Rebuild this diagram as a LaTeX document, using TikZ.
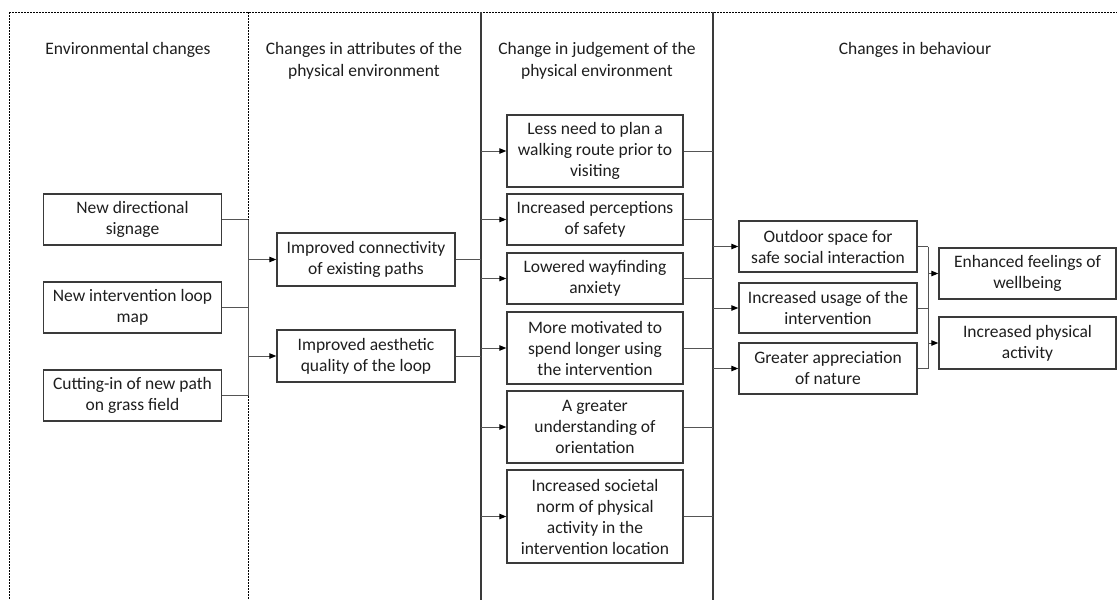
\documentclass[tikz,border=0pt]{standalone}
\usepackage{fontspec}
\setmainfont{Carlito}
\usetikzlibrary{arrows.meta}
\definecolor{boxc}{HTML}{3A3A3A}
\definecolor{txt}{HTML}{1E1E1E}
\definecolor{linec}{HTML}{555555}
\begin{document}
\begin{tikzpicture}[x=1pt,y=-1pt,
  box/.style={draw=boxc, line width=1.4pt, fill=white, align=center, text=txt,
    font=\fontsize{17.5}{21}\selectfont, inner sep=2pt, minimum width=178pt},
  head/.style={align=center, text=txt, font=\fontsize{17.5}{22}\selectfont, inner sep=0pt},
  conn/.style={draw=linec, line width=1pt},
  arr/.style={conn, -{Triangle[length=7pt,width=5.5pt,color=black]}},
  sepdash/.style={draw=black, line width=0.8pt, dash pattern=on 2pt off 1pt},
  sepsolid/.style={draw=boxc, line width=1.8pt}
]
\useasboundingbox (0,0) rectangle (1117,600);

% separators
\draw[sepdash] (9,12) -- (1117,12);
\draw[sepdash] (9,12) -- (9,600);
\draw[sepdash] (248,12) -- (248,600);
\draw[sepsolid] (481,12) -- (481,600);
\draw[sepsolid] (713,12) -- (713,600);

% headers
\node[head] (h1) at (128,50) {Environmental changes};
\node[head] (h2) at (364,61) {Changes in attributes of the\\physical environment};
\node[head] (h3) at (597,61) {Change in judgement of the\\physical environment};
\node[head] (h4) at (915,50) {Changes in behaviour};

% column 1
\node[box, minimum height=51pt] (b1) at (132.5,219.5) {New directional\\signage};
\node[box, minimum height=51pt] (b2) at (132.5,307.5) {New intervention loop\\map};
\node[box, minimum height=51pt] (b3) at (132.5,395.5) {Cutting-in of new path\\on grass field};

% column 2
\node[box, minimum height=53pt] (c1) at (366,259.5) {Improved connectivity\\of existing paths};
\node[box, minimum height=52pt] (c2) at (366,356) {Improved aesthetic\\quality of the loop};

% column 3
\node[box, minimum width=176pt, minimum height=72pt] (d1) at (595,151) {Less need to plan a\\walking route prior to\\visiting};
\node[box, minimum width=176pt, minimum height=51pt] (d2) at (595,219.5) {Increased perceptions\\of safety};
\node[box, minimum width=176pt, minimum height=51pt] (d3) at (595,278.5) {Lowered wayfinding\\anxiety};
\node[box, minimum width=176pt, minimum height=72pt] (d4) at (595,348) {More motivated to\\spend longer using\\the intervention};
\node[box, minimum width=176pt, minimum height=72pt] (d5) at (595,427) {A greater\\understanding of\\orientation};
\node[box, minimum width=176pt, minimum height=93pt] (d6) at (595,516.5) {Increased societal\\norm of physical\\activity in the\\intervention location};

% column 4
\node[box, minimum height=51pt] (e1) at (828,246.5) {Outdoor space for\\safe social interaction};
\node[box, minimum height=50pt] (e2) at (828,308) {Increased usage of the\\intervention};
\node[box, minimum height=51pt] (e3) at (828,368.5) {Greater appreciation\\of nature};

% column 5
\node[box, minimum width=177pt, minimum height=51pt] (f1) at (1027.5,273.5) {Enhanced feelings of\\wellbeing};
\node[box, minimum width=177pt, minimum height=52pt] (f2) at (1027.5,343) {Increased physical\\activity};

% junction coordinates
\coordinate (j1) at (248,0);
\coordinate (j2) at (481,0);
\coordinate (j3) at (713,0);
\coordinate (j4) at (928,0);

% col1 -> col2
\foreach \n in {b1,b2,b3} \draw[conn] (\n.east) -- (\n.east -| j1);
\draw[conn] (b1.east -| j1) -- (b3.east -| j1);
\foreach \n in {c1,c2} \draw[arr] (\n.west -| j1) -- (\n.west);

% col2 -> col3
\foreach \n in {c1,c2} \draw[conn] (\n.east) -- (\n.east -| j2);
\foreach \n in {d1,d2,d3,d4,d5,d6} \draw[arr] (\n.west -| j2) -- (\n.west);

% col3 -> col4
\foreach \n in {d1,d2,d3,d4,d5,d6} \draw[conn] (\n.east) -- (\n.east -| j3);
\foreach \n in {e1,e2,e3} \draw[arr] (\n.west -| j3) -- (\n.west);

% col4 -> col5
\foreach \n in {e1,e2,e3} \draw[conn] (\n.east) -- (\n.east -| j4);
\draw[conn] (e1.east -| j4) -- (e3.east -| j4);
\foreach \n in {f1,f2} \draw[arr] (\n.west -| j4) -- (\n.west);
\end{tikzpicture}
\end{document}
